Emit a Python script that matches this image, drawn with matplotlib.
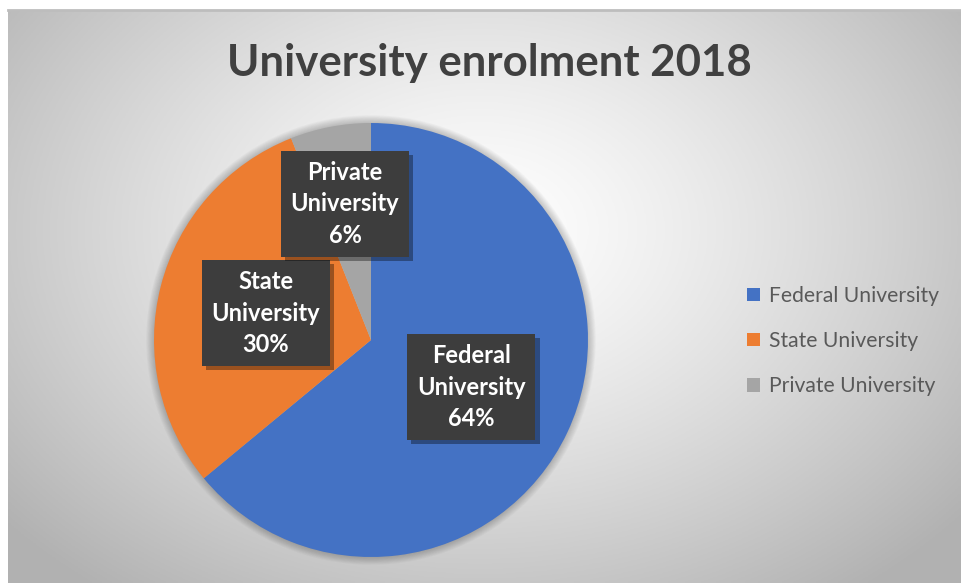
import numpy as np
import matplotlib
matplotlib.use("Agg")
import matplotlib.pyplot as plt
import matplotlib.patheffects as pe
from matplotlib.patches import Circle

# data
labels = ["Federal University", "State University", "Private University"]
shares = [64, 30, 6]
colors = ["#4472C4", "#ED7D31", "#A5A5A5"]
label_dist = [0.51, 0.50, 0.64]

plt.rcParams["font.family"] = ["Lato", "DejaVu Sans"]

W, H = 961, 583
fig = plt.figure(figsize=(W / 100, H / 100), dpi=100, facecolor="white")

# background panel with radial gradient
bg = fig.add_axes([8 / W, 0, (W - 8) / W, (H - 10) / H])
bg.set_axis_off()
nx, ny = 300, 200
xx, yy = np.meshgrid(np.linspace(8, W, nx), np.linspace(10, H, ny))
r = np.sqrt(((xx - 480) / 520) ** 2 + ((yy - 230) / 380) ** 2)
v = 1 - 0.24 * np.clip(r, 0, 1.2) ** 1.3
bg.imshow(np.dstack([v, v, v]), extent=[0, 1, 0, 1], aspect="auto", origin="upper")
bg.plot([0, 1], [1, 1], color="#bdbdbd", lw=2, transform=bg.transAxes, clip_on=False)

# pie
cx, cy, R = 371, 340, 217
ax = fig.add_axes([(cx - R) / W, (H - cy - R) / H, 2 * R / W, 2 * R / H])
ax.set_axis_off()
for k in range(10):
    ax.add_patch(Circle((0, 0), 1 + 0.004 * k, color="black", alpha=0.025, lw=0,
                        zorder=0, clip_on=False))
wedges, _ = ax.pie(shares, colors=colors, startangle=90, counterclock=False,
                   radius=1, wedgeprops=dict(linewidth=0))
ax.set_xlim(-1, 1)
ax.set_ylim(-1, 1)
ax.set_aspect("equal")

for w, lab, s, d in zip(wedges, labels, shares, label_dist):
    ang = np.deg2rad((w.theta1 + w.theta2) / 2)
    name = lab.replace(" ", "\n")
    t = ax.text(d * np.cos(ang), d * np.sin(ang), f"{name}\n{s}%",
                ha="center", va="center", color="white", fontsize=17,
                fontweight="bold", linespacing=1.45, zorder=5,
                bbox=dict(boxstyle="square,pad=0.42", fc="#3d3d3d", ec="none"))
    t.get_bbox_patch().set_path_effects([
        pe.SimplePatchShadow(offset=(3, -3), shadow_rgbFace="black", alpha=0.35),
        pe.Normal()])

fig.text(489 / W, 1 - 63 / H, "University enrolment 2018", ha="center", va="center",
         fontsize=31.5, fontweight="bold", color="#404040")

leg = fig.legend(wedges, labels, loc="center left", bbox_to_anchor=(728 / W, 1 - 341 / H),
                 frameon=False, fontsize=15.2, handlelength=0.6, handleheight=0.6,
                 handletextpad=0.42, labelspacing=1.2, labelcolor="#595959")

fig.savefig("out.png", dpi=100, facecolor="white")
